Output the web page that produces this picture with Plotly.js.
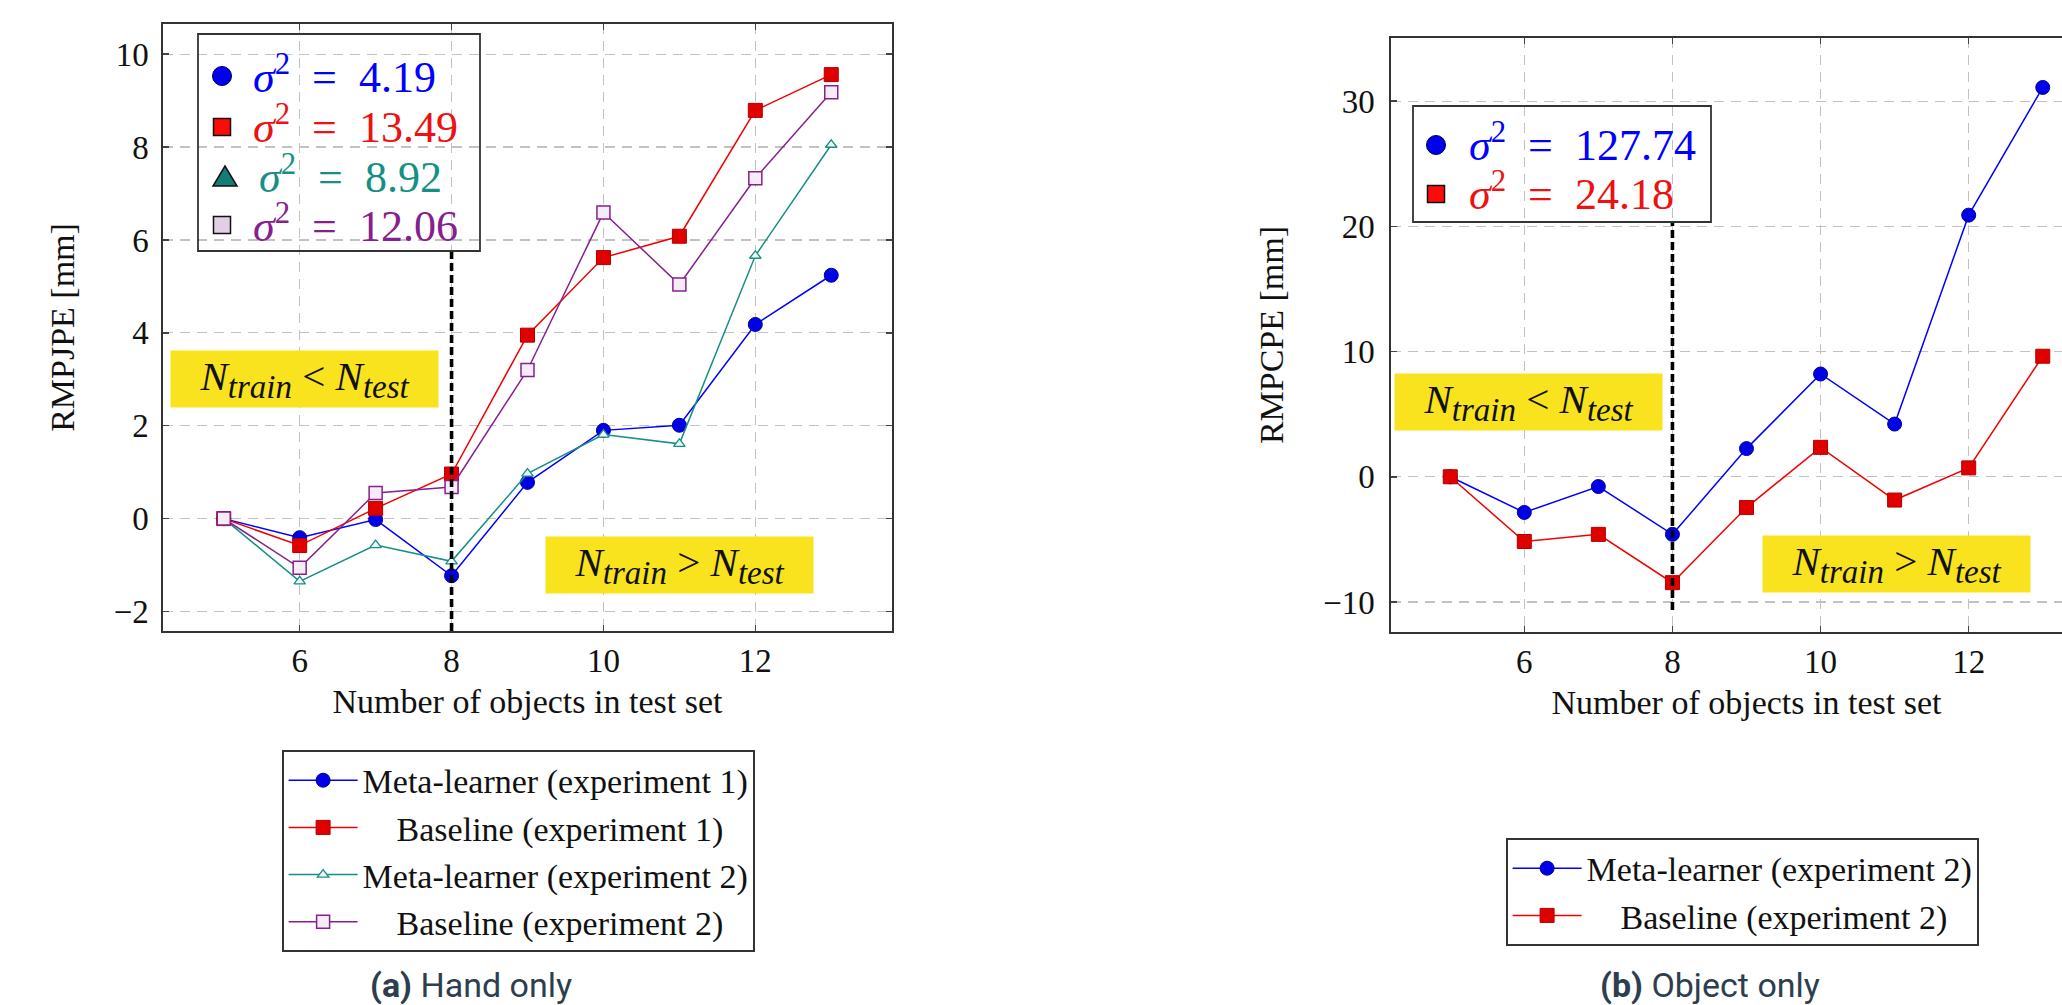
<!DOCTYPE html>
<html>
<head>
<meta charset="utf-8">
<script src="https://cdn.plot.ly/plotly-3.0.1.min.js"></script>
<style>
  html, body { margin: 0; padding: 0; background: #ffffff; overflow: hidden; width: 2062px; height: 1005px; }
  #chart { width: 2160px; height: 1005px; }
</style>
</head>
<body>
<div id="chart"></div>
<script>
// ---------------- data ----------------
const nObjects = [5, 6, 7, 8, 9, 10, 11, 12, 13];
const xTicks = [6, 8, 10, 12];

// (a) Hand only – RMPJPE [mm]
const handMetaExp1 = [0, -0.41, -0.02, -1.23, 0.78, 1.90, 2.01, 4.18, 5.24];
const handBaseExp1 = [0, -0.58, 0.22, 0.96, 3.95, 5.62, 6.08, 8.79, 9.56];
const handMetaExp2 = [0, -1.35, -0.57, -0.92, 0.97, 1.81, 1.61, 5.66, 8.05];
const handBaseExp2 = [0, -1.06, 0.55, 0.68, 3.20, 6.59, 5.04, 7.33, 9.18];
const handVariances = ['4.19', '13.49', '8.92', '12.06'];
const handYTicks = [-2, 0, 2, 4, 6, 8, 10];

// (b) Object only – RMPCPE [mm]
const objMetaExp2 = [0, -2.85, -0.78, -4.60, 2.25, 8.21, 4.21, 20.9, 31.1];
const objBaseExp2 = [0, -5.17, -4.60, -8.46, -2.46, 2.35, -1.86, 0.71, 9.63];
const objVariances = ['127.74', '24.18'];
const objYTicks = [-10, 0, 10, 20, 30];

const seriesNames = ['Meta-learner (experiment 1)', 'Baseline (experiment 1)',
                     'Meta-learner (experiment 2)', 'Baseline (experiment 2)'];
const captions = ['Hand only', 'Object only'];
const trainLess = 'N_train < N_test';
const trainMore = 'N_train > N_test';

// ---------------- styling helpers ----------------
const W = 2160, H = 1005;
const px = v => v / W;
const py = v => 1 - v / H;

const BLUE = '#0000ff', RED = '#f00000', TEAL = '#168f84', PURPLE = '#86208f';
const SERIF = 'Liberation Serif, DejaVu Serif, serif';
const YELLOW = '#f8e31e';
const NB = '\u00a0';

function axisBase() {
  return {
    showline: true, linecolor: '#333', linewidth: 1.6, mirror: 'ticks',
    ticks: 'inside', ticklen: 6, tickwidth: 1.5, tickcolor: '#444',
    showgrid: true, gridcolor: '#c2c2c2', gridwidth: 1.3, griddash: '10px,7px',
    zeroline: false, fixedrange: true,
    tickfont: { family: SERIF, size: 33, color: '#111' }
  };
}

function mathLabel(s) {
  // "N_a < N_b" -> italic N with italic subscripts
  const m = s.match(/N_(\w+) ([<>]) N_(\w+)/);
  const op = m[2] === '<' ? '&lt;' : '&gt;';
  const sub = t => '<sub><span style="font-size:33px"><i>' + t + '</i></span></sub>';
  return '<i>N</i>' + sub(m[1]) + ' ' + op + ' ' + '<i>N</i>' + sub(m[3]);
}
function sigmaLabel(v) {
  return '<i>σ</i><sup>2</sup>' + NB + NB + '=' + NB + NB + v;
}

// ---------------- traces ----------------
const traces = [
  { x: nObjects, y: handMetaExp1, name: seriesNames[0], xaxis: 'x', yaxis: 'y', legend: 'legend',
    mode: 'lines+markers', line: { color: BLUE, width: 1.5 },
    marker: { symbol: 'circle', size: 14, color: '#0000e6', line: { color: '#0000a0', width: 1 } } },
  { x: nObjects, y: handBaseExp1, name: seriesNames[1], xaxis: 'x', yaxis: 'y', legend: 'legend',
    mode: 'lines+markers', line: { color: RED, width: 1.5 },
    marker: { symbol: 'square', size: 14, color: '#e00000', line: { color: '#b00000', width: 1 } } },
  { x: nObjects, y: handMetaExp2, name: seriesNames[2], xaxis: 'x', yaxis: 'y', legend: 'legend',
    mode: 'lines+markers', line: { color: TEAL, width: 1.5 },
    marker: { symbol: 'triangle-up', size: 10, color: '#eef8f6', line: { color: TEAL, width: 1.3 } } },
  { x: nObjects, y: handBaseExp2, name: seriesNames[3], xaxis: 'x', yaxis: 'y', legend: 'legend',
    mode: 'lines+markers', line: { color: PURPLE, width: 1.5 },
    marker: { symbol: 'square', size: 13, color: '#f6ecf7', line: { color: PURPLE, width: 1.5 } } },

  { x: nObjects, y: objMetaExp2, name: seriesNames[2], xaxis: 'x2', yaxis: 'y2', legend: 'legend2',
    mode: 'lines+markers', line: { color: BLUE, width: 1.5 },
    marker: { symbol: 'circle', size: 14, color: '#0000e6', line: { color: '#0000a0', width: 1 } } },
  { x: nObjects, y: objBaseExp2, name: seriesNames[3], xaxis: 'x2', yaxis: 'y2', legend: 'legend2',
    mode: 'lines+markers', line: { color: RED, width: 1.5 },
    marker: { symbol: 'square', size: 14, color: '#e00000', line: { color: '#b00000', width: 1 } } }
];
// Centre the "Baseline" legend entries like the original
traces.forEach(t => { if (t.name.startsWith('Baseline')) t.name = NB.repeat(4) + t.name; });

// ---------------- layout ----------------
const xa = Object.assign(axisBase(), {
  domain: [px(163), px(892)], anchor: 'y', range: [4.2, 13.8], tickvals: xTicks,
  title: { text: 'Number of objects in test set', font: { family: SERIF, size: 34, color: '#111' }, standoff: 11 }
});
const ya = Object.assign(axisBase(), {
  domain: [py(631), py(24)], anchor: 'x', range: [-2.42, 10.65], tickvals: handYTicks,
  ticklabelstandoff: 6,
  title: { text: 'RMPJPE [mm]', font: { family: SERIF, size: 34, color: '#111' }, standoff: 29 }
});
const xa2 = Object.assign(axisBase(), {
  domain: [px(1391), px(2102)], anchor: 'y2', range: [4.2, 13.8], tickvals: xTicks,
  title: { text: 'Number of objects in test set', font: { family: SERIF, size: 34, color: '#111' }, standoff: 11 }
});
const ya2 = Object.assign(axisBase(), {
  domain: [py(632), py(38)], anchor: 'x2', range: [-12.4, 35.05], tickvals: objYTicks,
  ticklabelstandoff: 8,
  title: { text: 'RMPCPE [mm]', font: { family: SERIF, size: 34, color: '#111' }, standoff: 29 }
});

const shapes = [];
const annotations = [];

// dashed separators at N = 8
shapes.push({ type: 'line', xref: 'x', yref: 'paper', x0: 8, x1: 8, y0: py(631), y1: py(251),
  line: { color: '#000', width: 3.6, dash: '8px,4px' }, layer: 'above' });
shapes.push({ type: 'line', xref: 'x2', yref: 'paper', x0: 8, x1: 8, y0: py(610), y1: py(222),
  line: { color: '#000', width: 3.6, dash: '8px,4px' }, layer: 'above' });

// variance boxes
shapes.push({ type: 'rect', xref: 'paper', yref: 'paper', x0: px(198), x1: px(480), y0: py(251), y1: py(34),
  line: { color: '#333', width: 1.8 }, fillcolor: 'rgba(0,0,0,0)', layer: 'above' });
shapes.push({ type: 'rect', xref: 'paper', yref: 'paper', x0: px(1413), x1: px(1711), y0: py(222), y1: py(106),
  line: { color: '#333', width: 1.8 }, fillcolor: 'rgba(0,0,0,0)', layer: 'above' });

function circleShape(cx, cy, d, fill) {
  shapes.push({ type: 'circle', xref: 'paper', yref: 'paper',
    x0: px(cx - d / 2), x1: px(cx + d / 2), y0: py(cy + d / 2), y1: py(cy - d / 2),
    fillcolor: fill, line: { color: '#000050', width: 1 }, layer: 'above' });
}
function squareShape(cx, cy, d, fill) {
  shapes.push({ type: 'rect', xref: 'paper', yref: 'paper',
    x0: px(cx - d / 2), x1: px(cx + d / 2), y0: py(cy + d / 2), y1: py(cy - d / 2),
    fillcolor: fill, line: { color: '#111', width: 1.5 }, layer: 'above' });
}
function triangleShape(cx, cy, w, h, fill) {
  const p = 'M' + px(cx - w / 2) + ',' + py(cy + h / 2) + ' L' + px(cx + w / 2) + ',' + py(cy + h / 2) +
            ' L' + px(cx) + ',' + py(cy - h / 2) + ' Z';
  shapes.push({ type: 'path', xref: 'paper', yref: 'paper', path: p,
    fillcolor: fill, line: { color: '#111', width: 1.5 }, layer: 'above' });
}

// (a) variance entries
const handColors = [BLUE, '#ee1111', TEAL, PURPLE];
const handRowsY = [76, 127, 176, 225];
circleShape(222, handRowsY[0], 19, '#0000ee');
squareShape(222, handRowsY[1], 17, '#ff0a0a');
triangleShape(225, handRowsY[2], 24, 20, '#167d76');
squareShape(222, handRowsY[3], 17, '#e2cfe6');
handVariances.forEach((v, i) => {
  annotations.push({ xref: 'paper', yref: 'paper', x: px(i === 2 ? 257 : 251), y: py(handRowsY[i] - 2),
    xanchor: 'left', yanchor: 'middle', showarrow: false, text: sigmaLabel(v),
    font: { family: SERIF, size: 44, color: handColors[i] } });
});

// (b) variance entries
const objColors = [BLUE, '#ee1111'];
const objRowsY = [145, 194];
circleShape(1436, objRowsY[0], 19, '#0000ee');
squareShape(1436, objRowsY[1], 17, '#ff0a0a');
objVariances.forEach((v, i) => {
  annotations.push({ xref: 'paper', yref: 'paper', x: px(1467), y: py(objRowsY[i] - 2),
    xanchor: 'left', yanchor: 'middle', showarrow: false, text: sigmaLabel(v),
    font: { family: SERIF, size: 44, color: objColors[i] } });
});

// yellow regime labels (positioned in data coordinates)
function regime(xr, yr, x, y, txt) {
  annotations.push({ xref: xr, yref: yr, x: x, y: y, xanchor: 'center', yanchor: 'middle',
    showarrow: false, text: mathLabel(txt), bgcolor: YELLOW, borderpad: 0,
    width: 267, height: 56, align: 'center', valign: 'middle',
    font: { family: SERIF, size: 41, color: '#111' } });
}
regime('x', 'y', 6.06, 3.0, trainLess);
regime('x', 'y', 11.0, -1.0, trainMore);
regime('x2', 'y2', 6.06, 6.0, trainLess);
regime('x2', 'y2', 11.03, -7.0, trainMore);

// sub-figure captions
annotations.push({ xref: 'paper', yref: 'paper', x: px(471), y: py(985), xanchor: 'center', yanchor: 'middle',
  showarrow: false, text: '<b>(a)</b> ' + captions[0], font: { family: 'Roboto, sans-serif', size: 34, color: '#2d3e4f' } });
annotations.push({ xref: 'paper', yref: 'paper', x: px(1710), y: py(985), xanchor: 'center', yanchor: 'middle',
  showarrow: false, text: '<b>(b)</b> ' + captions[1], font: { family: 'Roboto, sans-serif', size: 34, color: '#2d3e4f' } });

const legendBase = {
  xanchor: 'left', yanchor: 'top', bgcolor: '#ffffff', bordercolor: '#333', borderwidth: 1.6,
  font: { family: SERIF, size: 34, color: '#111' }, itemwidth: 69, tracegroupgap: 0, traceorder: 'normal',
  orientation: 'v'
};

const layout = {
  width: W, height: H,
  margin: { l: 0, r: 0, t: 0, b: 0, pad: 0 },
  paper_bgcolor: '#ffffff', plot_bgcolor: '#ffffff',
  showlegend: true,
  xaxis: xa, yaxis: ya, xaxis2: xa2, yaxis2: ya2,
  legend: Object.assign({}, legendBase, { x: px(282), y: py(750) }),
  legend2: Object.assign({}, legendBase, { x: px(1506), y: py(838) }),
  shapes: shapes, annotations: annotations
};

Plotly.newPlot('chart', traces, layout, { displayModeBar: false, staticPlot: true });
</script>
</body>
</html>
